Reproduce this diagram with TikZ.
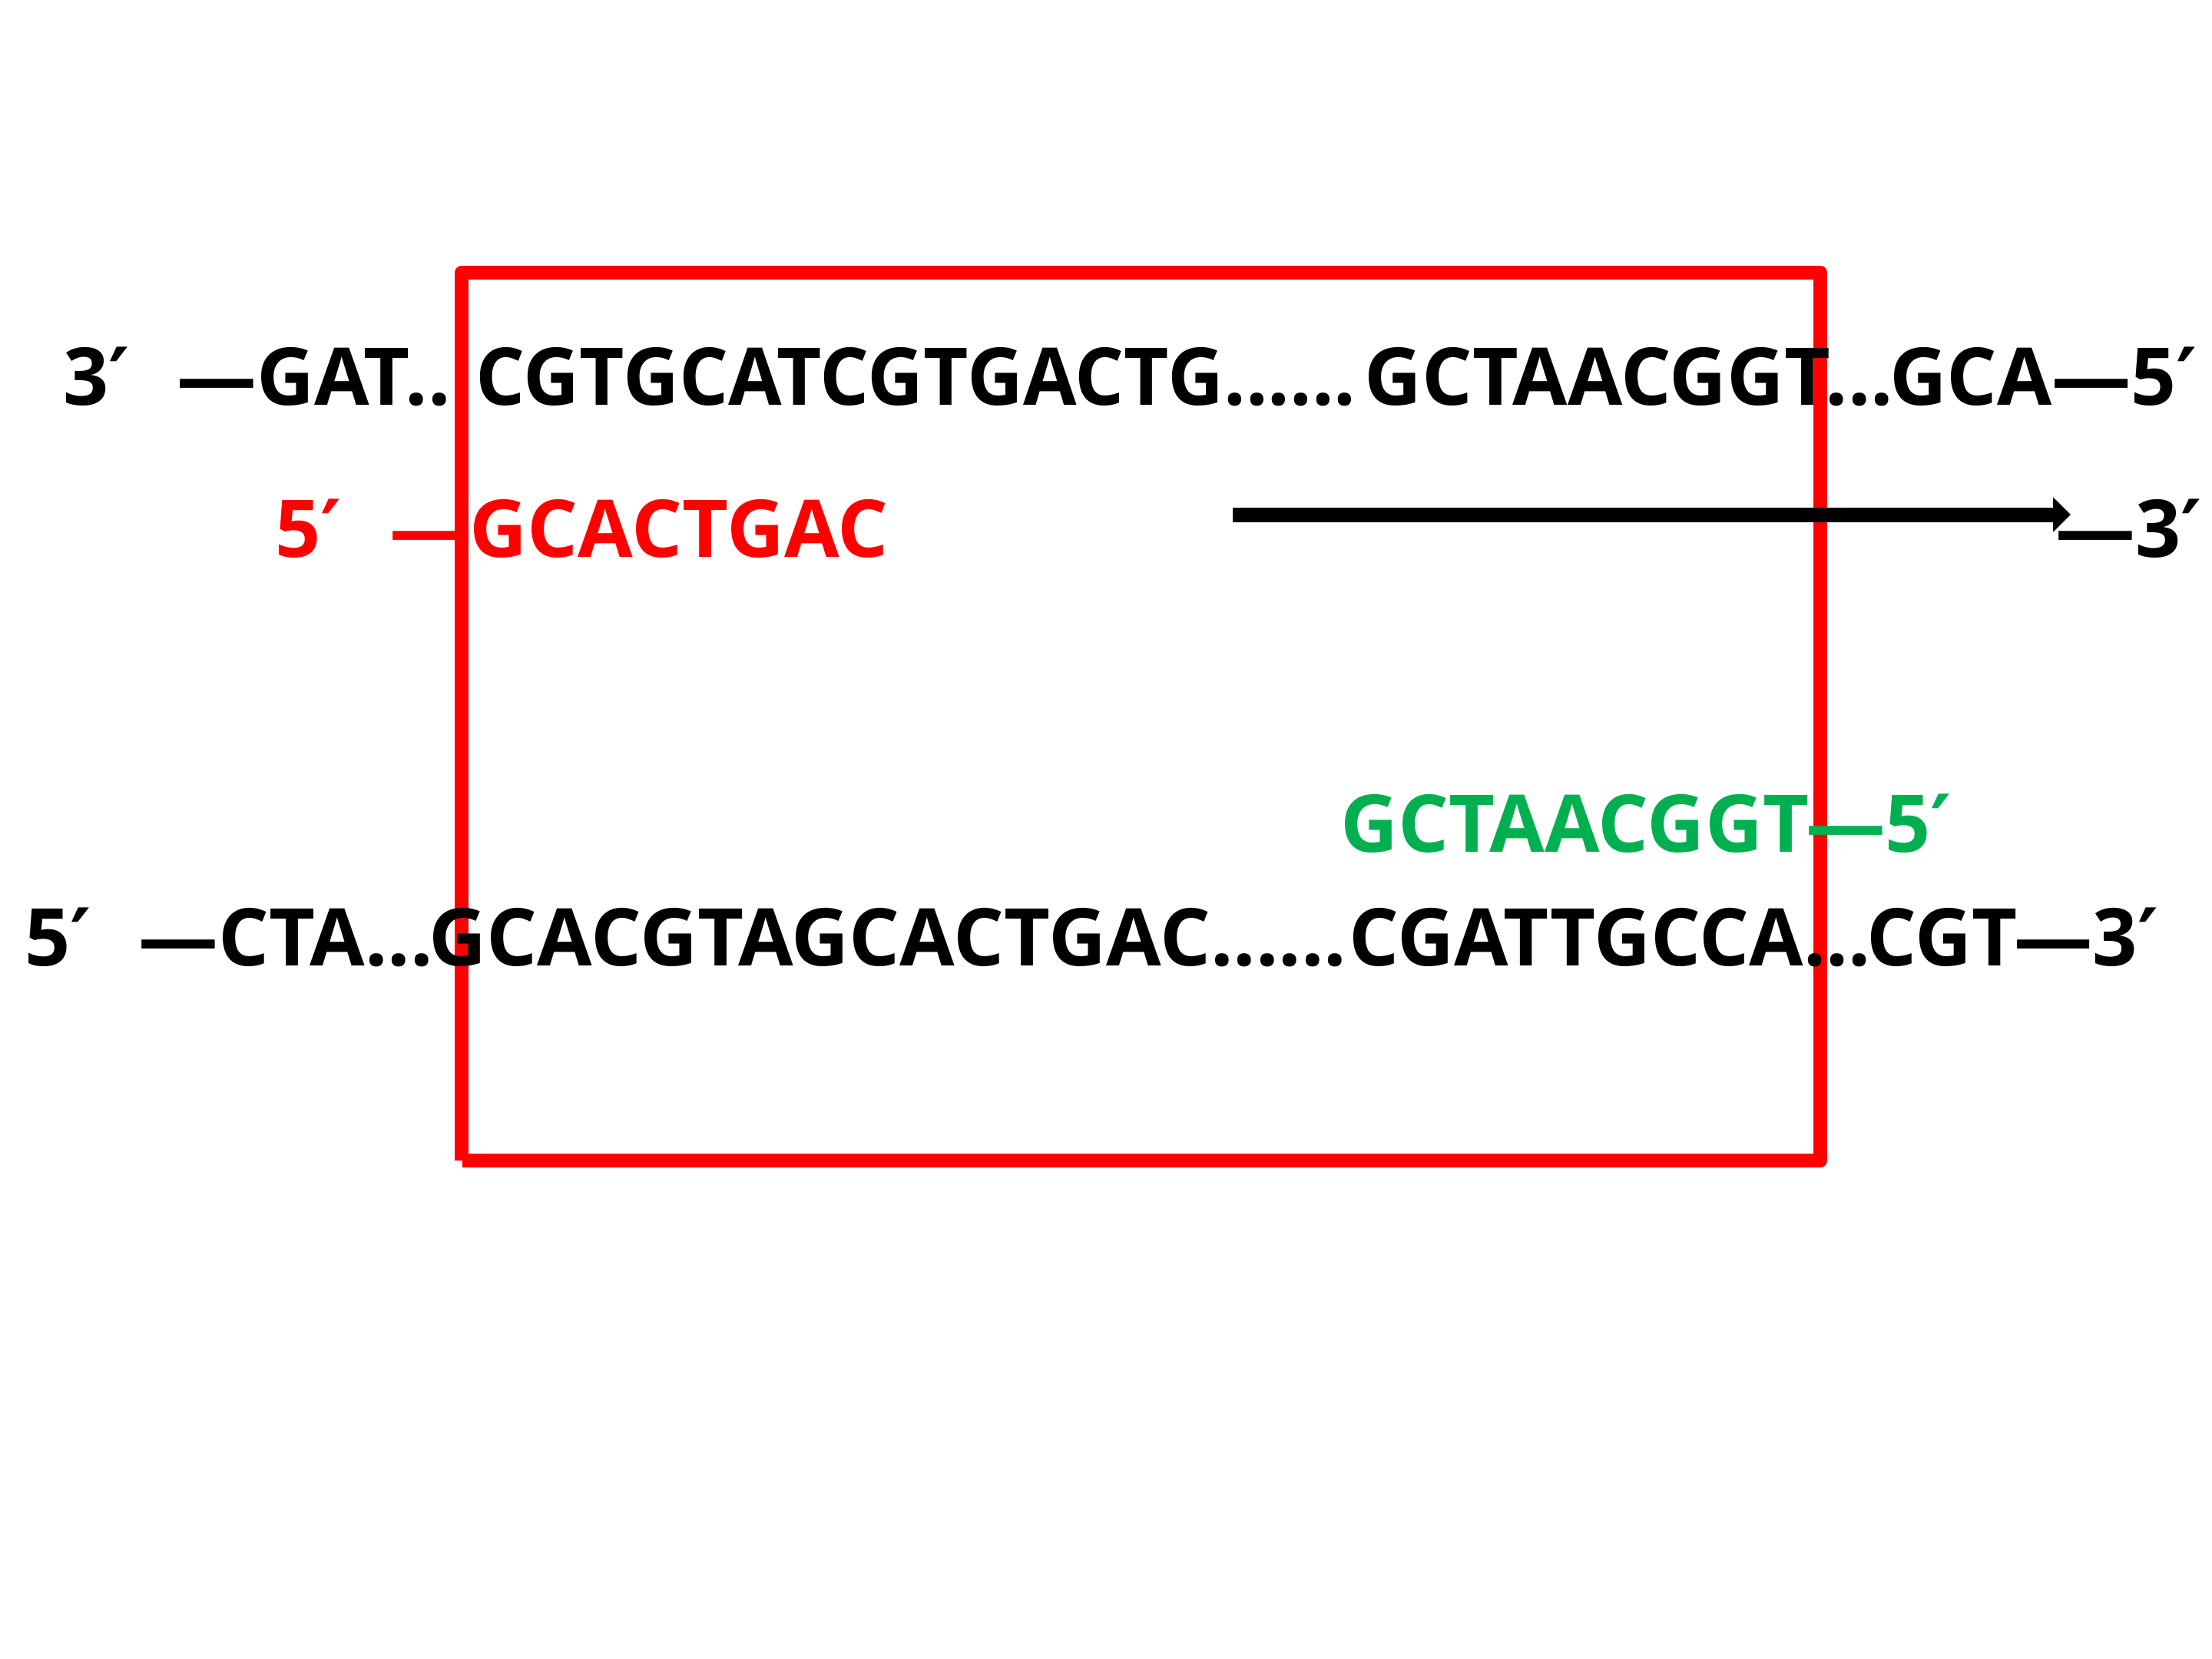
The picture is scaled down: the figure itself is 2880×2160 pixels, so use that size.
\documentclass[tikz,border=0pt]{standalone}
\usepackage{fontspec}
\setmainfont{Open Sans}
\newfontfamily\primefont{DejaVu Sans}
\newcommand{\pr}{{\primefont\bfseries ′}}
\usetikzlibrary{arrows.meta}
\definecolor{boxred}{HTML}{FF0000}
\definecolor{primergreen}{HTML}{00B050}
\tikzset{
  seq/.style={anchor=base west, inner sep=0pt, font=\fontsize{29.5pt}{30pt}\selectfont\bfseries},
  frame/.style={draw=boxred, line width=0.18cm, line join=round},
  ext/.style={line width=0.19cm, -{Triangle[length=0.23cm,width=0.44cm]}}
}
\begin{document}
\begin{tikzpicture}[x=0.01cm,y=-0.01cm]
\useasboundingbox (0,0) rectangle (2880,2160);
% frame
\draw[frame] (601,1511) -- (601,355) -- (2370,355) -- (2370,1511) -- (602,1511);
% top strand
\node[seq] (t3) at (82,527) {3\pr};
\node[seq] (tL) at (230,527) {—GAT..};
\node[seq] (tM) at (619,527) {\scalebox{0.972}[1]{CGTGCATCGTGACTG......}};
\node[seq] (tR) at (1776,527) {\scalebox{0.995}[1]{GCTAACGGT...GCA—5\pr}};
% red primer
\node[seq, text=boxred] (p5) at (358,725) {5\pr};
\node[seq, text=boxred] (pS) at (507,725) {—GCACTGAC};
% extension arrow
\node[seq] (e3) at (2676,725) {—3\pr};
\coordinate (ea) at (1605,670);
\coordinate (eb) at (2696,670);
\draw[ext] (ea) -- (eb);
% green primer
\node[seq, text=primergreen] (g) at (1745,1109) {GCTAACGGT—5\pr};
% bottom strand
\node[seq] (b5) at (32,1257) {5\pr};
\node[seq] (bS) at (180,1257) {—CTA...GCACGTAGCACTGAC......};
\node[seq] (bR) at (1756,1257) {\scalebox{0.985}[1]{CGATTGCCA...CGT—3\pr}};
\end{tikzpicture}
\end{document}
